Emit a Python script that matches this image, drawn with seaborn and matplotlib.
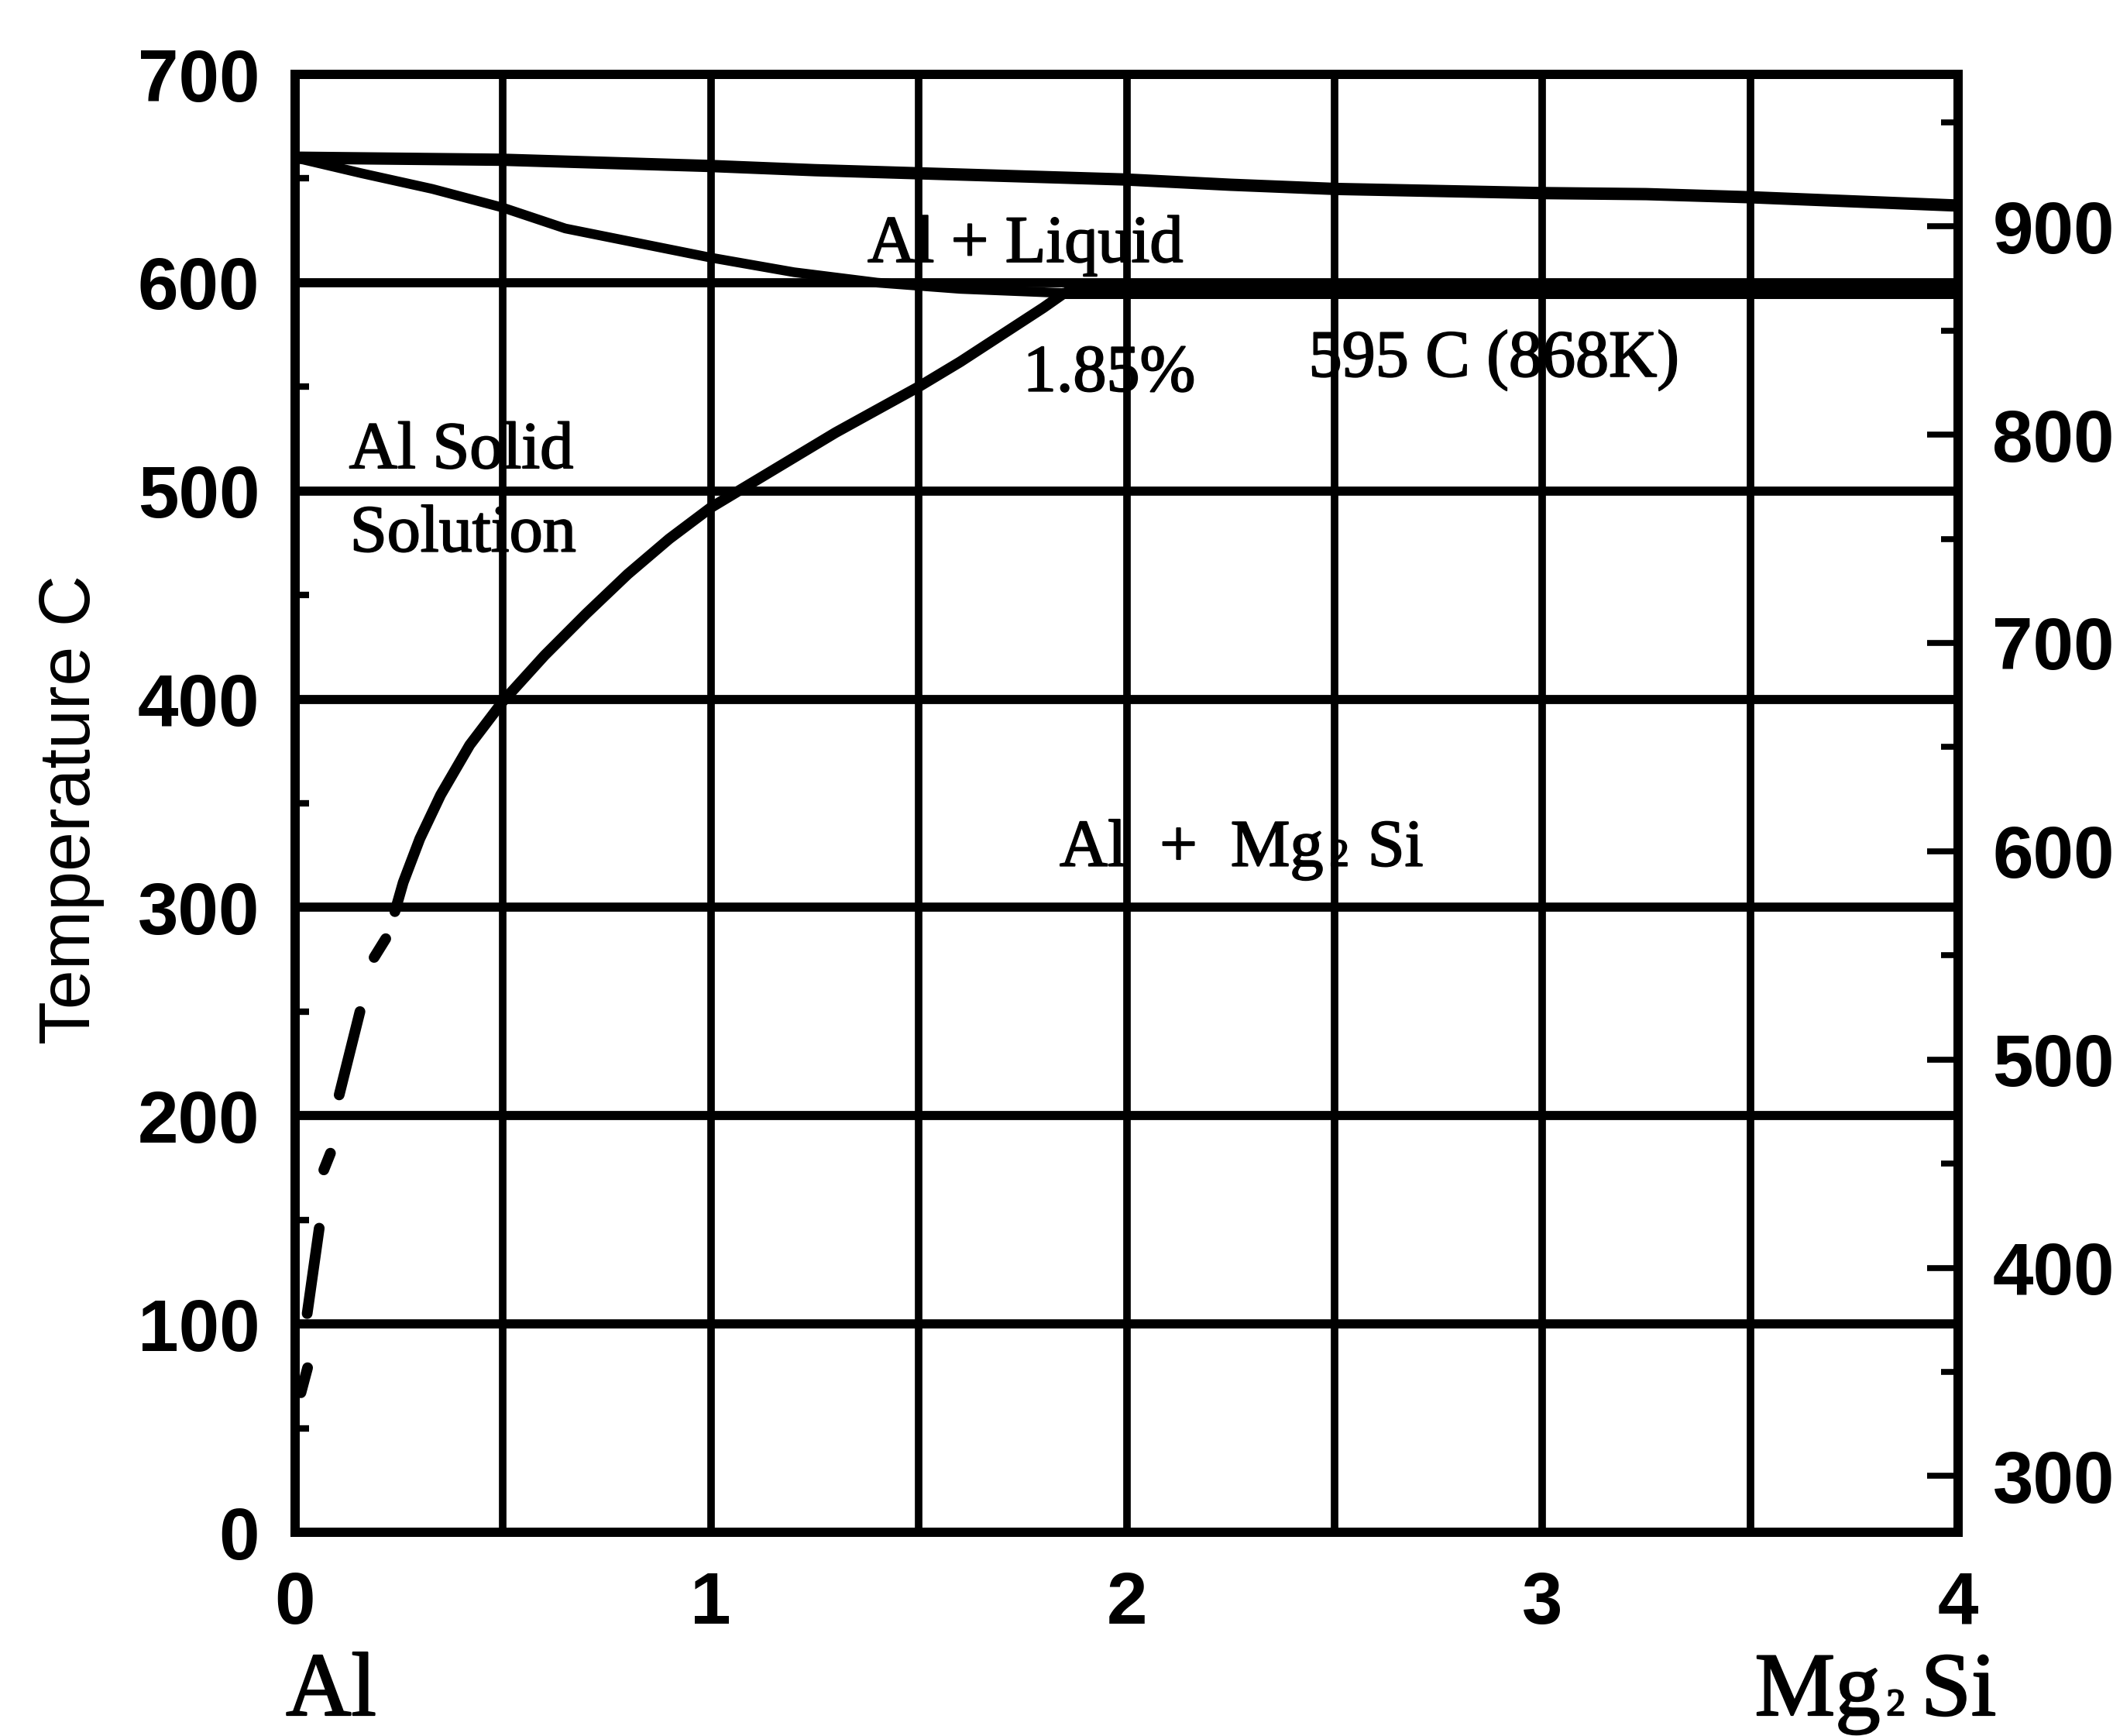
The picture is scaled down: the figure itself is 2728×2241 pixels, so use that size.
import matplotlib
matplotlib.use("Agg")
import matplotlib.pyplot as plt
import matplotlib.patheffects as pe
import matplotlib.transforms as mtransforms
from matplotlib.ticker import FixedLocator, MultipleLocator, NullFormatter
import numpy as np
import pandas as pd
import seaborn as sns

# ---------------------------------------------------------------
# Al - Mg2Si quasi-binary phase diagram (composition in wt% Mg2Si)
# ---------------------------------------------------------------
liquidus_x = [0.0, 0.25, 0.5, 0.75, 1.0, 1.25, 1.5, 1.75, 2.0, 2.25, 2.5, 2.75, 3.0, 3.25, 3.5, 3.75, 4.0]
liquidus_T = [660, 659.5, 659, 657.5, 656, 654, 652.5, 651, 649.5, 647, 645, 644, 643, 642.5, 641, 639, 637]

solidus_x = [0.0, 0.16, 0.33, 0.5, 0.65, 0.8, 1.0, 1.2, 1.4, 1.6, 1.85]
solidus_T = [660, 652.5, 645, 636, 626, 620, 612, 605, 600, 597, 595]

eutectic_x = [1.85, 4.0]
eutectic_T = [595, 595]

solvus_x = [1.85, 1.80, 1.70, 1.60, 1.50, 1.40, 1.30, 1.20, 1.10, 1.00, 0.90,
            0.80, 0.70, 0.60, 0.50, 0.42, 0.35, 0.30, 0.26, 0.24]
solvus_T = [595, 588, 575, 562, 550, 539, 528, 516, 504, 492, 477,
            460, 441, 421, 399, 378, 354, 333, 312, 298]

# low-temperature solvus (extrapolated), drawn as broken strokes
solvus_ext_x = [[0.218, 0.190], [0.156, 0.106], [0.085, 0.069], [0.058, 0.029], [0.030, 0.014]]
solvus_ext_T = [[285, 276], [250, 210], [182, 174], [146, 105], [79, 67]]

x_ticks = [0, 1, 2, 3, 4]
x_grid = [0.5, 1.5, 2.5, 3.5]
celsius_ticks = [0, 100, 200, 300, 400, 500, 600, 700]
kelvin_ticks = [300, 400, 500, 600, 700, 800, 900]
kelvin_offset = 273

region_text = ["Al Solid", "Solution", "Al + Liquid", "1.85%", "595 C (868K)"]
region_x = [0.13, 0.132, 1.377, 1.751, 2.438]
region_T = [511, 471, 610, 548, 555]

# ---------------------------------------------------------------
sns.set_style("white")
plt.rcParams["font.family"] = ["Liberation Sans", "DejaVu Sans"]

W, H = 2728, 2241
fig = plt.figure(figsize=(W / 100, H / 100), dpi=100)
fig.patch.set_facecolor("white")
x0, x1, y0, y1 = 381, 2528, 96, 1978
ax = fig.add_axes([x0 / W, 1 - y1 / H, (x1 - x0) / W, (y1 - y0) / H])

ax.set_xlim(0, 4)
ax.set_ylim(0, 700)

# phase boundaries
sns.lineplot(x=liquidus_x, y=liquidus_T, ax=ax, color="k", linewidth=11.5, sort=False,
             estimator=None, solid_capstyle="butt", zorder=4)
sns.lineplot(x=solidus_x, y=solidus_T, ax=ax, color="k", linewidth=9, sort=False,
             estimator=None, solid_capstyle="round", solid_joinstyle="round", zorder=4)
sns.lineplot(x=eutectic_x, y=eutectic_T, ax=ax, color="k", linewidth=11.5, sort=False,
             estimator=None, solid_capstyle="butt", zorder=4)
sns.lineplot(x=solvus_x, y=solvus_T, ax=ax, color="k", linewidth=10, sort=False,
             estimator=None, solid_capstyle="round", solid_joinstyle="round", zorder=4)

ext = pd.DataFrame({
    "seg": np.repeat(np.arange(len(solvus_ext_x)), 2),
    "x": np.ravel(solvus_ext_x),
    "T": np.ravel(solvus_ext_T),
})
sns.lineplot(data=ext, x="x", y="T", units="seg", estimator=None, sort=False,
             ax=ax, color="k", linewidth=10, solid_capstyle="round", zorder=4)

# grid of the diagram paper
ax.xaxis.set_major_locator(FixedLocator(x_ticks))
ax.xaxis.set_minor_locator(FixedLocator(x_grid))
ax.yaxis.set_major_locator(FixedLocator(celsius_ticks))
ax.yaxis.set_minor_locator(MultipleLocator(50))
ax.grid(axis="x", which="both", color="k", linewidth=7)
ax.grid(axis="y", which="major", color="k", linewidth=8.5)
ax.set_axisbelow(True)

tick_font = dict(family="Liberation Sans", weight="bold", size=68, color="k")
ax.set_xticklabels([str(v) for v in x_ticks], fontdict=tick_font)
ax.set_yticklabels([str(v) for v in celsius_ticks], fontdict=tick_font)
ax.tick_params(axis="x", which="both", length=0, pad=35, labelcolor="k")
ax.tick_params(axis="y", which="major", length=0, pad=33, left=True, right=False,
               labelcolor="k")
ax.tick_params(axis="y", which="minor", direction="in", length=13, width=6,
               color="k", left=True, right=False)

for s in ax.spines.values():
    s.set_linewidth(8.5)
    s.set_color("k")
    s.set_zorder(6)

ax.set_ylabel("Temperature C", family="Liberation Sans", size=66, color="k")
ax.yaxis.set_label_coords((135 - x0) / (x1 - x0), 0.496)
ax.set_xlabel("")

# Kelvin scale on the right
axk = ax.twinx()
axk.set_ylim(0 + kelvin_offset, 700 + kelvin_offset)
axk.yaxis.set_major_locator(FixedLocator(kelvin_ticks))
axk.yaxis.set_minor_locator(MultipleLocator(50))
axk.yaxis.set_minor_formatter(NullFormatter())
axk.set_yticklabels([str(v) for v in kelvin_ticks], fontdict=tick_font)
axk.tick_params(axis="y", which="major", direction="in", length=29, width=5.5,
                color="k", pad=32, right=True, left=False, labelcolor="k")
axk.tick_params(axis="y", which="minor", direction="in", length=16, width=5.5,
                color="k", right=True, left=False)
axk.grid(False)
for s in axk.spines.values():
    s.set_linewidth(8.5)
    s.set_color("k")

# region annotations
def serif_style(size, stroke):
    return dict(family="Liberation Serif", size=size, color="k",
                path_effects=[pe.withStroke(linewidth=stroke, foreground="k")])

for txt, xv, tv in zip(region_text, region_x, region_T):
    ax.text(xv, tv, txt, ha="left", va="baseline", zorder=7, **serif_style(62, 1.4))

fig.canvas.draw()
renderer = fig.canvas.get_renderer()


def text_runs(x, y, runs, transform, size, stroke):
    """Write pieces of text side by side on one baseline (for the small 2 in Mg2Si)."""
    dx = 0.0
    for piece, scale, gap in runs:
        dx += gap
        t = ax.text(x, y, piece, ha="left", va="baseline", clip_on=False, zorder=7,
                    transform=mtransforms.offset_copy(transform, fig=fig, x=dx, y=0,
                                                      units="dots"),
                    **serif_style(size * scale, stroke))
        dx += t.get_window_extent(renderer).width


text_runs(1.839, 320, [("Al  +  Mg", 1.0, 0), ("2", 0.58, 8), ("Si", 1.0, 24)],
          ax.transData, 62, 1.4)

# composition end members below the axis
blend = mtransforms.blended_transform_factory(ax.transData, ax.transAxes)
base_y = (y1 - 2214) / (y1 - y0)
ax.text(-0.022, base_y, "Al", transform=blend, ha="left", va="baseline",
        clip_on=False, **serif_style(84, 1.6))
text_runs(3.511, base_y, [("Mg", 1.0, 0), ("2", 0.42, 8), ("Si", 1.0, 20)],
          blend, 84, 1.6)

fig.savefig("out.png", dpi=100, facecolor="white")
